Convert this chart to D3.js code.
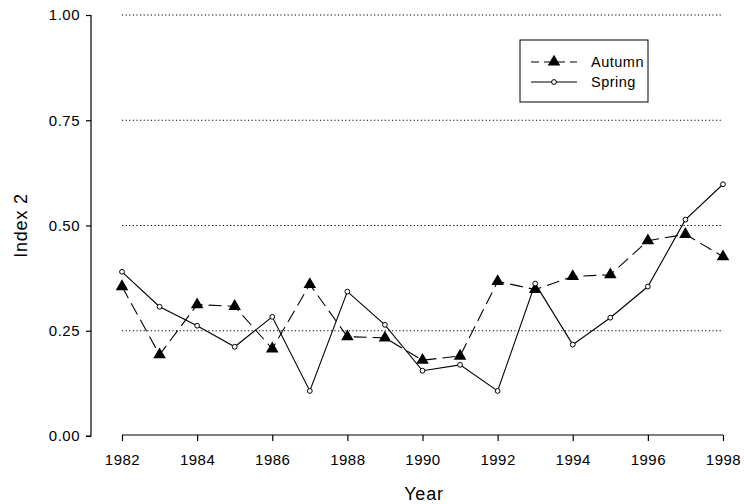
<!DOCTYPE html>
<html>
<head>
<meta charset="utf-8">
<script src="https://cdn.jsdelivr.net/npm/d3@7"></script>
<style>
  body { margin: 0; background: #fff; }
  text { font-family: "Liberation Sans", Arial, sans-serif; }
</style>
</head>
<body>
<script>
// data
var years = [1982, 1983, 1984, 1985, 1986, 1987, 1988, 1989, 1990,
             1991, 1992, 1993, 1994, 1995, 1996, 1997, 1998];
var autumn = [0.355, 0.193, 0.312, 0.308, 0.207, 0.360, 0.236, 0.233, 0.180,
              0.190, 0.367, 0.348, 0.379, 0.383, 0.464, 0.479, 0.426];
var spring = [0.390, 0.307, 0.262, 0.212, 0.283, 0.107, 0.343, 0.264, 0.155,
              0.169, 0.107, 0.362, 0.217, 0.281, 0.355, 0.514, 0.598];
var yTicks = [0, 0.25, 0.5, 0.75, 1];
var xTicks = [1982, 1984, 1986, 1988, 1990, 1992, 1994, 1996, 1998];

var width = 744, height = 504;

var x = d3.scaleLinear().domain([1982, 1998]).range([122, 723]);
var y = d3.scaleLinear().domain([0, 1]).range([436, 15]);

var svg = d3.select("body").append("svg")
    .attr("width", width)
    .attr("height", height);

// dotted reference lines
svg.selectAll(".grid")
    .data(yTicks.filter(function(d) { return d > 0; }))
    .enter().append("line")
    .attr("x1", x(1982)).attr("x2", x(1998))
    .attr("y1", function(d) { return y(d); })
    .attr("y2", function(d) { return y(d); })
    .attr("stroke", "#000")
    .attr("stroke-width", 1.2)
    .attr("stroke-dasharray", "1.2,2.4");

// y axis
var yAxis = svg.append("g")
    .attr("transform", "translate(91,0)")
    .call(d3.axisLeft(y).tickValues(yTicks).tickFormat(d3.format(".2f")).tickSize(5).tickPadding(6));

// x axis (offset, detached from y axis)
var xAxis = svg.append("g")
    .attr("transform", "translate(0,435)")
    .call(d3.axisBottom(x).tickValues(xTicks).tickFormat(d3.format("d")).tickSize(6).tickPadding(13));

svg.selectAll(".domain").attr("stroke", "#000").attr("stroke-width", 1.2);
svg.selectAll(".tick line").attr("stroke", "#000").attr("stroke-width", 1.2);
svg.selectAll(".tick text")
    .attr("fill", "#000")
    .style("font-size", "15px")
    .style("letter-spacing", "0.5px")
    .style("font-family", "'Liberation Sans', Arial, sans-serif");
// remove outer tick caps on the domain path
yAxis.select(".domain").attr("d", "M0," + y(1) + "V" + y(0) + "H-5");
xAxis.select(".domain").attr("d", "M" + x(1982) + ",0H" + x(1998));

// axis titles
svg.append("text")
    .attr("transform", "translate(27," + y(0.5) + ") rotate(-90)")
    .attr("text-anchor", "middle")
    .style("font-size", "18px")
    .style("letter-spacing", "0.8px")
    .text("Index 2");

svg.append("text")
    .attr("x", 424).attr("y", 500)
    .attr("text-anchor", "middle")
    .style("font-size", "18px")
    .style("letter-spacing", "0.8px")
    .text("Year");

var line = d3.line()
    .x(function(d, i) { return x(years[i]); })
    .y(function(d) { return y(d); });

// spring: solid line, open circles
svg.append("path")
    .datum(spring)
    .attr("d", line)
    .attr("fill", "none")
    .attr("stroke", "#000")
    .attr("stroke-width", 1.1);

// autumn: dashed line, filled triangles
svg.append("path")
    .datum(autumn)
    .attr("d", line)
    .attr("fill", "none")
    .attr("stroke", "#000")
    .attr("stroke-width", 1.1)
    .attr("stroke-dasharray", "13,6");

var tri = d3.symbol().type(d3.symbolTriangle).size(68);

svg.selectAll(".tri")
    .data(autumn)
    .enter().append("path")
    .attr("d", tri)
    .attr("transform", function(d, i) {
        return "translate(" + x(years[i]) + "," + y(d) + ")";
    })
    .attr("fill", "#000");

svg.selectAll(".dot")
    .data(spring)
    .enter().append("circle")
    .attr("cx", function(d, i) { return x(years[i]); })
    .attr("cy", function(d) { return y(d); })
    .attr("r", 2.4)
    .attr("fill", "#fff")
    .attr("stroke", "#000")
    .attr("stroke-width", 1);

// legend
var legend = svg.append("g");
legend.append("rect")
    .attr("x", 520).attr("y", 40)
    .attr("width", 128).attr("height", 62)
    .attr("fill", "#fff")
    .attr("stroke", "#000")
    .attr("stroke-width", 1);

legend.append("line")
    .attr("x1", 531).attr("x2", 577)
    .attr("y1", 62).attr("y2", 62)
    .attr("stroke", "#000").attr("stroke-width", 1.1)
    .attr("stroke-dasharray", "8,5");
legend.append("path")
    .attr("d", tri)
    .attr("transform", "translate(554,62)")
    .attr("fill", "#000");
legend.append("text")
    .attr("x", 591).attr("y", 67)
    .style("font-size", "14.5px")
    .style("letter-spacing", "0.5px")
    .text("Autumn");

legend.append("line")
    .attr("x1", 531).attr("x2", 577)
    .attr("y1", 82).attr("y2", 82)
    .attr("stroke", "#000").attr("stroke-width", 1.1);
legend.append("circle")
    .attr("cx", 554).attr("cy", 82)
    .attr("r", 2.4)
    .attr("fill", "#fff")
    .attr("stroke", "#000");
legend.append("text")
    .attr("x", 591).attr("y", 87)
    .style("font-size", "14.5px")
    .style("letter-spacing", "0.5px")
    .text("Spring");
</script>
</body>
</html>
